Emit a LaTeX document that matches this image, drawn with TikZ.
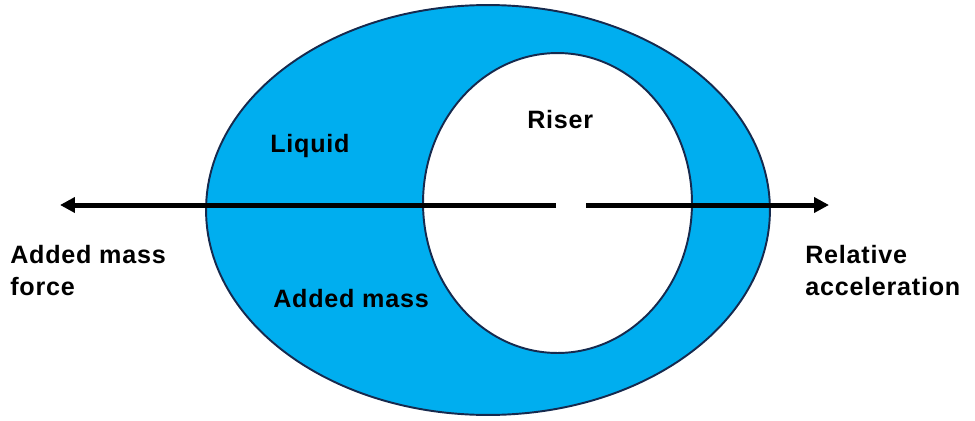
\documentclass[tikz,border=0pt]{standalone}
\usepackage{fontspec}
\newfontfamily\lblfont[LetterSpace=3]{Liberation Sans}
\usepackage{tikz}
\usetikzlibrary{
    shapes.geometric,
    positioning,
    arrows.meta
}
\definecolor{liquidblue}{RGB}{0,174,239}
\definecolor{rimblue}{RGB}{22,42,78}
\tikzset{
    >={Triangle[length=0.3cm, width=0.3cm]},
    tank/.style={
        ellipse,
        draw=rimblue,
        fill=liquidblue,
        line width=1.1pt,
        minimum width=11.28cm,
        minimum height=8.2cm,
        inner sep=0pt
    },
    riser/.style={
        ellipse,
        draw=rimblue,
        fill=white,
        line width=1.1pt,
        minimum width=5.38cm,
        minimum height=6cm,
        inner sep=0pt
    },
    lbl/.style={
        font=\lblfont\bfseries\fontsize{14.3}{18.2}\selectfont,
        inner sep=0pt,
        align=left,
        anchor=base west
    },
    force/.style={
        ->,
        line width=2.85pt
    }
}
\begin{document}
\begin{tikzpicture}[
    x=0.02cm,
    y=-0.02cm
]
    \useasboundingbox (0,0) rectangle (975,420);

    % Liquido y riser
    \node[tank]  (liquid) at (488,210)   {};
    \node[riser] (pipe)   at (557.5,203) {};

    % Textos (base = ultima linea)
    \node[lbl] (liqtxt)   at (270,152) {Liquid};
    \node[lbl] (risertxt) at (527,128) {Riser};
    \node[lbl] (addtxt)   at (273,307) {Added mass};
    \node[lbl] (forcetxt) at (10,295)  {Added mass\\force};
    \node[lbl] (acctxt)   at (805,295) {Relative\\acceleration};

    % Flechas
    \coordinate (gapL) at (556,205);
    \coordinate (tipL) at (60,205);
    \coordinate (gapR) at (586,205);
    \coordinate (tipR) at (829,205);

    \draw[force] (gapL) -- (tipL);
    \draw[force] (gapR) -- (tipR);

\end{tikzpicture}
\end{document}
